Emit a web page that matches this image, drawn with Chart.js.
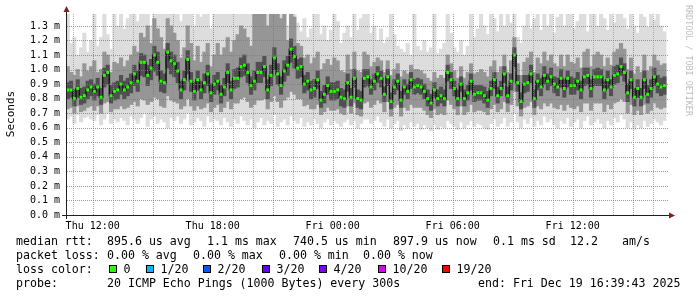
<!DOCTYPE html>
<html><head><meta charset="utf-8">
<script src="https://cdn.jsdelivr.net/npm/chart.js@4.4.1/dist/chart.umd.min.js"></script>
<style>html,body{margin:0;padding:0;background:#fff}canvas{display:block}</style>
</head><body>
<canvas id="c" width="697" height="297"></canvas>
<script>
// sample grid: Thu 10:45 onward, one sample every 10 minutes (hours since Thu 00:00)
const startHour = 10.75;
const stepHour = 1 / 6;
const axisMinHour = 10.715;
const axisMaxHour = 40.765;

const gridHours = [11,12,13,14,15,16,17,18,19,20,21,22,23,24,25,26,27,28,29,30,31,32,33,34,35,36,37,38,39,40];
const labelHours = [12, 18, 24, 30, 36];
const labelTexts = ['Thu 12:00', 'Thu 18:00', 'Fri 00:00', 'Fri 06:00', 'Fri 12:00'];
const yTicks = [0,0.1,0.2,0.3,0.4,0.5,0.6,0.7,0.8,0.9,1.0,1.1,1.2,1.3];

// median RTT (ms)
const median = [
0.86,0.86,0.80,0.87,0.81,0.82,0.86,0.88,0.85,0.88,0.81,0.96,0.98,0.82,0.85,0.86,0.90,0.86,0.88,0.91,0.97,0.92,1.05,1.05,0.96,1.01,1.10,1.05,0.92,0.91,1.12,1.06,1.04,0.99,0.86,0.93,1.07,0.92,0.85,0.93,0.86,0.91,0.97,0.84,0.90,
0.92,0.83,0.88,0.98,0.86,0.94,0.94,1.02,1.03,0.98,0.89,0.92,0.98,0.98,1.02,0.86,0.96,1.08,0.97,0.89,0.99,1.03,1.14,1.09,1.01,1.02,0.90,0.92,0.86,0.87,0.93,0.79,0.83,0.89,0.85,0.85,0.86,0.81,0.80,0.91,0.81,0.94,0.80,0.79,0.94,
0.95,0.88,0.92,0.97,0.94,0.83,0.95,0.78,0.88,0.92,0.79,0.88,0.85,0.93,0.88,0.89,0.88,0.85,0.80,0.77,0.86,0.80,0.82,0.80,0.98,0.93,0.87,0.80,0.90,0.80,0.84,0.92,0.83,0.84,0.84,0.82,0.79,0.87,0.93,0.82,0.87,0.97,0.82,0.92,1.10,
0.91,0.78,0.90,0.91,0.97,0.80,0.92,0.88,0.96,0.92,0.95,0.90,0.88,0.94,0.87,0.94,0.89,0.89,0.92,0.86,0.95,0.96,0.87,0.95,0.95,0.95,0.86,0.93,0.88,0.96,0.97,1.02,0.98,0.84,0.93,0.81,0.87,0.81,0.93,0.83,0.87,0.95,0.90,0.88,0.89];

// outer smoke (max / min ping)
const smokeMax = [
1.41,1.18,1.22,1.10,1.15,1.25,1.12,1.20,1.41,1.16,1.22,1.41,1.24,1.14,1.41,1.30,1.41,1.28,1.35,1.41,1.41,1.33,1.41,1.41,1.41,1.30,1.41,1.41,1.41,1.38,1.41,1.41,1.41,1.41,1.33,1.41,1.41,1.41,1.30,1.41,1.36,1.41,1.41,1.28,1.41,
1.41,1.41,1.41,1.41,1.38,1.41,1.41,1.41,1.41,1.41,1.41,1.41,1.41,1.41,1.41,1.41,1.41,1.41,1.41,1.41,1.41,1.30,1.41,1.41,1.32,1.26,1.35,1.22,1.28,1.41,1.41,1.24,1.30,1.20,1.27,1.41,1.33,1.18,1.25,1.30,1.22,1.41,1.27,1.35,1.41,
1.41,1.25,1.30,1.20,1.28,1.18,1.22,1.41,1.24,1.16,1.14,1.12,1.18,1.10,1.41,1.16,1.13,1.20,1.12,1.15,1.41,1.11,1.14,1.18,1.41,1.25,1.15,1.12,1.20,1.10,1.16,1.41,1.22,1.28,1.41,1.30,1.24,1.41,1.35,1.26,1.41,1.30,1.41,1.32,1.41,
1.22,1.18,1.30,1.41,1.28,1.35,1.41,1.27,1.41,1.30,1.41,1.25,1.36,1.41,1.30,1.41,1.41,1.28,1.33,1.41,1.41,1.26,1.38,1.41,1.30,1.41,1.35,1.27,1.41,1.32,1.41,1.41,1.35,1.28,1.41,1.30,1.25,1.41,1.36,1.29,1.41,1.34,1.41,1.30,1.26];
const smokeMin = [
0.66,0.68,0.63,0.69,0.64,0.67,0.68,0.66,0.65,0.69,0.62,0.66,0.70,0.63,0.66,0.64,0.67,0.65,0.62,0.68,0.66,0.63,0.67,0.70,0.61,0.66,0.68,0.63,0.66,0.64,0.60,0.67,0.65,0.68,0.63,0.66,0.70,0.62,0.64,0.67,0.65,0.61,0.68,0.64,0.66,
0.65,0.62,0.67,0.64,0.61,0.66,0.63,0.68,0.65,0.62,0.66,0.60,0.64,0.67,0.62,0.65,0.63,0.69,0.61,0.64,0.66,0.62,0.68,0.65,0.63,0.67,0.61,0.64,0.62,0.66,0.63,0.60,0.64,0.66,0.62,0.65,0.63,0.61,0.64,0.66,0.62,0.65,0.60,0.63,0.66,
0.66,0.63,0.65,0.68,0.64,0.61,0.66,0.60,0.63,0.65,0.58,0.62,0.60,0.64,0.61,0.63,0.59,0.62,0.60,0.58,0.62,0.59,0.61,0.60,0.65,0.63,0.61,0.59,0.64,0.60,0.62,0.65,0.61,0.63,0.62,0.60,0.59,0.63,0.66,0.61,0.63,0.67,0.61,0.64,0.70,
0.64,0.60,0.66,0.63,0.67,0.61,0.65,0.62,0.68,0.64,0.66,0.62,0.60,0.65,0.63,0.67,0.61,0.64,0.66,0.60,0.65,0.68,0.62,0.64,0.66,0.63,0.60,0.65,0.62,0.67,0.64,0.69,0.66,0.60,0.64,0.59,0.62,0.60,0.65,0.61,0.63,0.66,0.64,0.62,0.65];

// middle smoke band
const midHigh = [
1.02,0.98,0.96,1.00,0.95,1.04,0.99,1.02,1.06,0.98,1.00,1.12,1.10,0.98,1.05,1.04,1.08,1.02,1.06,1.10,1.16,1.12,1.25,1.22,1.30,1.18,1.35,1.28,1.22,1.14,1.35,1.30,1.25,1.20,1.08,1.15,1.30,1.18,1.06,1.16,1.05,1.12,1.18,1.02,1.10,
1.18,1.10,1.15,1.22,1.12,1.20,1.24,1.30,1.28,1.22,1.16,1.41,1.41,1.41,1.41,1.30,1.41,1.41,1.41,1.35,1.41,1.20,1.41,1.36,1.18,1.16,1.08,1.10,1.04,1.08,1.12,1.00,1.04,1.07,1.03,1.08,1.06,0.99,0.98,1.10,1.00,1.12,0.99,0.98,1.12,
1.10,1.02,1.05,1.08,1.06,0.98,1.06,0.96,1.00,1.04,0.95,0.99,0.97,1.03,1.00,1.00,0.99,0.97,0.94,0.92,0.98,0.94,0.96,0.94,1.10,1.04,0.99,0.94,1.02,0.94,0.98,1.04,0.97,0.98,1.00,0.98,0.95,1.02,1.06,0.98,1.02,1.10,0.98,1.06,1.22,
1.04,0.96,1.05,1.08,1.12,0.98,1.08,1.04,1.12,1.06,1.10,1.04,1.02,1.10,1.02,1.10,1.05,1.04,1.08,1.01,1.12,1.14,1.02,1.10,1.12,1.10,1.02,1.08,1.03,1.12,1.14,1.18,1.14,1.00,1.08,0.97,1.02,0.98,1.10,0.99,1.02,1.10,1.06,1.03,1.04];
const midLow = [
0.73,0.74,0.70,0.75,0.71,0.72,0.74,0.75,0.72,0.75,0.70,0.77,0.78,0.71,0.73,0.73,0.75,0.73,0.74,0.76,0.78,0.75,0.80,0.79,0.76,0.78,0.81,0.80,0.75,0.74,0.82,0.79,0.78,0.77,0.73,0.75,0.80,0.75,0.72,0.75,0.73,0.74,0.77,0.71,0.74,
0.76,0.71,0.74,0.78,0.73,0.77,0.77,0.80,0.81,0.78,0.74,0.76,0.79,0.79,0.80,0.73,0.78,0.82,0.78,0.74,0.79,0.81,0.85,0.83,0.80,0.80,0.75,0.76,0.73,0.73,0.76,0.69,0.71,0.74,0.72,0.72,0.73,0.70,0.69,0.75,0.70,0.77,0.69,0.68,0.77,
0.78,0.74,0.76,0.79,0.77,0.71,0.78,0.68,0.74,0.76,0.68,0.74,0.72,0.76,0.74,0.74,0.74,0.72,0.69,0.67,0.73,0.69,0.70,0.69,0.79,0.76,0.73,0.69,0.75,0.69,0.71,0.76,0.71,0.72,0.72,0.71,0.69,0.73,0.76,0.71,0.73,0.78,0.71,0.76,0.85,
0.75,0.68,0.74,0.75,0.78,0.69,0.75,0.73,0.77,0.75,0.77,0.74,0.73,0.76,0.72,0.76,0.74,0.73,0.75,0.71,0.77,0.77,0.72,0.77,0.77,0.77,0.71,0.76,0.73,0.77,0.78,0.80,0.78,0.70,0.76,0.69,0.72,0.69,0.76,0.70,0.72,0.77,0.74,0.73,0.74];

// inner (dark) smoke band
const coreHigh = [
0.91,0.92,0.86,0.93,0.87,0.88,0.92,0.93,0.90,0.94,0.87,1.01,1.03,0.89,0.91,0.92,0.96,0.92,0.94,0.97,1.03,0.99,1.11,1.10,1.03,1.07,1.16,1.12,0.99,0.97,1.18,1.12,1.10,1.05,0.92,0.99,1.13,0.98,0.91,0.99,0.92,0.97,1.03,0.90,0.96,
0.98,0.89,0.94,1.04,0.92,1.00,1.01,1.08,1.10,1.04,0.95,0.99,1.05,1.05,1.09,0.93,1.03,1.15,1.04,0.95,1.06,1.09,1.21,1.16,1.07,1.08,0.96,0.98,0.92,0.93,0.99,0.85,0.89,0.95,0.91,0.91,0.92,0.87,0.86,0.97,0.87,1.00,0.86,0.85,1.00,
1.00,0.93,0.97,1.02,0.99,0.88,1.00,0.84,0.93,0.97,0.85,0.93,0.90,0.98,0.93,0.94,0.93,0.90,0.86,0.83,0.91,0.86,0.88,0.86,1.03,0.98,0.92,0.86,0.95,0.86,0.89,0.97,0.89,0.89,0.89,0.88,0.85,0.92,0.98,0.88,0.92,1.02,0.88,0.97,1.15,
0.96,0.84,0.96,0.96,1.03,0.86,0.97,0.94,1.02,0.97,1.01,0.95,0.94,1.00,0.93,0.99,0.95,0.94,0.98,0.92,1.01,1.01,0.93,1.00,1.01,1.00,0.92,0.99,0.93,1.02,1.03,1.08,1.04,0.90,0.99,0.87,0.93,0.87,0.99,0.89,0.93,1.01,0.96,0.94,0.95];
const coreLow = [
0.80,0.81,0.75,0.81,0.76,0.77,0.80,0.82,0.79,0.82,0.76,0.88,0.90,0.77,0.79,0.80,0.83,0.80,0.82,0.84,0.89,0.85,0.96,0.95,0.89,0.93,0.99,0.96,0.85,0.84,1.01,0.97,0.95,0.91,0.80,0.86,0.97,0.85,0.79,0.86,0.80,0.84,0.89,0.78,0.83,
0.86,0.77,0.82,0.91,0.80,0.87,0.88,0.95,0.96,0.91,0.83,0.86,0.91,0.91,0.95,0.80,0.89,1.00,0.90,0.83,0.92,0.96,1.05,1.01,0.94,0.95,0.84,0.86,0.80,0.81,0.87,0.74,0.77,0.83,0.79,0.79,0.80,0.75,0.74,0.85,0.75,0.88,0.74,0.73,0.88,
0.89,0.83,0.86,0.91,0.88,0.78,0.89,0.73,0.83,0.86,0.74,0.83,0.80,0.87,0.83,0.84,0.83,0.80,0.75,0.72,0.81,0.75,0.77,0.75,0.92,0.87,0.82,0.75,0.85,0.75,0.79,0.86,0.78,0.79,0.79,0.77,0.74,0.82,0.87,0.77,0.82,0.91,0.77,0.86,1.02,
0.85,0.73,0.84,0.85,0.91,0.74,0.86,0.82,0.90,0.86,0.89,0.84,0.82,0.88,0.81,0.88,0.83,0.83,0.86,0.80,0.89,0.90,0.81,0.89,0.89,0.89,0.80,0.87,0.82,0.90,0.91,0.96,0.92,0.78,0.87,0.75,0.81,0.75,0.87,0.77,0.81,0.89,0.84,0.82,0.83];

const lossLabels = ['0', '1/20', '2/20', '3/20', '4/20', '10/20', '19/20'];
const lossColors = ['#26ff00', '#00b8ff', '#0059ff', '#5e00ff', '#7e00ff', '#dd00ff', '#ff0000'];
const rttTexts = ['median rtt:', '895.6 us avg', '1.1 ms max', '740.5 us min', '897.9 us now', '0.1 ms sd', '12.2', 'am/s'];
const lossTexts = ['packet loss:', '0.00 % avg', '0.00 % max', '0.00 % min', '0.00 % now'];
const probeTexts = ['loss color:', 'probe:', '20 ICMP Echo Pings (1000 Bytes) every 300s', 'end: Fri Dec 19 16:39:43 2025'];
const yTitle = 'Seconds';
const watermark = 'RRDTOOL / TOBI OETIKER';

const times = median.map((_, i) => startHour + i * stepHour);
const band = (lo, hi) => times.map((t, i) => ({x: t, y: [lo[i], hi[i]]}));
const medPts = times.map((t, i) => ({x: t, y: median[i]}));

const MONO = '"DejaVu Sans Mono", monospace';
Chart.defaults.font.family = MONO;

const MAJOR_GRID = 'rgba(222,79,79,0.75)';
const MINOR_GRID = 'rgba(143,143,143,0.7)';

// dotted grid drawn on top of the smoke, positioned by the chart's own scales
const dottedGrid = {
  id: 'dottedGrid',
  afterDatasetsDraw(chart) {
    const ctx = chart.ctx, a = chart.chartArea, xs = chart.scales.x, ys = chart.scales.y;
    ctx.save();
    const top = Math.ceil(a.top), bottom = Math.floor(a.bottom);
    gridHours.forEach(h => {
      const x = Math.round(xs.getPixelForValue(h));
      ctx.fillStyle = (h % 3 === 0) ? MAJOR_GRID : MINOR_GRID;
      for (let y = top; y < bottom; y += 2) ctx.fillRect(x, y, 1, 1);
    });
    ctx.fillStyle = MAJOR_GRID;
    yTicks.forEach(v => {
      if (v === 0) return;
      const y = Math.round(ys.getPixelForValue(v));
      for (let x = Math.round(a.left); x < a.right; x += 2) ctx.fillRect(x, y, 1, 1);
    });
    ctx.restore();
  }
};

const deco = {
  id: 'deco',
  afterDraw(chart) {
    const ctx = chart.ctx, a = chart.chartArea;
    ctx.save();
    // axes
    ctx.strokeStyle = '#1f1f1f'; ctx.lineWidth = 1;
    ctx.beginPath();
    ctx.moveTo(a.left - 0.5, a.bottom + 4); ctx.lineTo(a.left - 0.5, a.top - 5);
    ctx.moveTo(a.left - 5, a.bottom + 0.5); ctx.lineTo(a.right + 4, a.bottom + 0.5);
    ctx.stroke();
    ctx.fillStyle = '#801f1f';
    ctx.beginPath();
    ctx.moveTo(a.left - 0.5, a.top - 8); ctx.lineTo(a.left - 3.5, a.top - 2); ctx.lineTo(a.left + 2.5, a.top - 2); ctx.closePath(); ctx.fill();
    ctx.beginPath();
    ctx.moveTo(a.right + 7, a.bottom + 0.5); ctx.lineTo(a.right + 1, a.bottom - 2.5); ctx.lineTo(a.right + 1, a.bottom + 3.5); ctx.closePath(); ctx.fill();

    // legend text
    ctx.fillStyle = '#000';
    ctx.font = '11.6px ' + MONO;
    ctx.textBaseline = 'alphabetic';
    ctx.textAlign = 'left';
    const r1 = [16, 107, 207, 293, 393, 493, 570, 622];
    rttTexts.forEach((t, i) => ctx.fillText(t, r1[i], 245));
    const r2 = [16, 107, 193, 279, 363];
    lossTexts.forEach((t, i) => ctx.fillText(t, r2[i], 259));
    ctx.fillText(probeTexts[0], 16, 273);
    const bx = [109, 146, 203, 262, 319, 378, 442];
    lossLabels.forEach((t, i) => {
      ctx.fillStyle = lossColors[i];
      ctx.fillRect(bx[i], 265, 8, 8);
      ctx.strokeStyle = '#000';
      ctx.strokeRect(bx[i] + 0.5, 265.5, 7, 7);
      ctx.fillStyle = '#000';
      ctx.fillText(t, bx[i] + 14.5, 273);
    });
    ctx.fillText(probeTexts[1], 16, 287);
    ctx.fillText(probeTexts[2], 107, 287);
    ctx.fillText(probeTexts[3], 478, 287);

    // y title
    ctx.save();
    ctx.translate(11, 114);
    ctx.rotate(-Math.PI / 2);
    ctx.textAlign = 'center'; ctx.textBaseline = 'middle';
    ctx.font = '11px ' + MONO;
    ctx.fillText(yTitle, 0, 0);
    ctx.restore();

    // watermark
    ctx.save();
    ctx.translate(688, 5);
    ctx.rotate(Math.PI / 2);
    ctx.textAlign = 'left'; ctx.textBaseline = 'middle';
    ctx.font = '8.4px ' + MONO;
    ctx.fillStyle = '#bdbdbd';
    ctx.fillText(watermark, 0, 0);
    ctx.restore();
    ctx.restore();
  }
};

const barOpts = {grouped: false, barPercentage: 1, categoryPercentage: 1, borderWidth: 0, inflateAmount: 0.4};

new Chart(document.getElementById('c'), {
  type: 'bar',
  data: {
    datasets: [
      {type: 'line', data: medPts, order: 0, borderColor: '#151515', borderWidth: 1.5, stepped: 'middle',
       pointStyle: 'rect', pointRadius: 2.1, pointHoverRadius: 2.1, pointBackgroundColor: '#26ff00', pointBorderWidth: 0, fill: false},
      Object.assign({data: band(coreLow, coreHigh), order: 1, backgroundColor: '#505050'}, barOpts),
      Object.assign({data: band(midLow, midHigh), order: 2, backgroundColor: '#969696'}, barOpts),
      Object.assign({data: band(smokeMin, smokeMax), order: 3, backgroundColor: '#dddddd'}, barOpts)
    ]
  },
  options: {
    responsive: false,
    animation: false,
    events: [],
    layout: {padding: {left: 0, right: 29, top: 14, bottom: 0}},
    plugins: {legend: {display: false}, tooltip: {enabled: false}},
    scales: {
      x: {
        type: 'linear', min: axisMinHour, max: axisMaxHour, offset: false,
        grid: {display: false, offset: false, drawTicks: false},
        border: {display: false},
        ticks: {autoSkip: false, maxRotation: 0, minRotation: 0, padding: 5, color: '#000', font: {size: 10},
                callback: v => { const k = labelHours.indexOf(v); return k >= 0 ? labelTexts[k] : ''; }},
        afterBuildTicks: s => { s.ticks = gridHours.map(v => ({value: v})); },
        afterFit: s => { s.height = 82; }
      },
      y: {
        min: 0, max: 1.382,
        grid: {display: false, drawTicks: false},
        border: {display: false},
        ticks: {padding: 7, color: '#000', font: {size: 10}, callback: v => v.toFixed(1) + ' m'},
        afterBuildTicks: s => { s.ticks = yTicks.map(v => ({value: v})); },
        afterFit: s => { s.width = 67; }
      }
    }
  },
  plugins: [dottedGrid, deco]
});
</script>
</body></html>
